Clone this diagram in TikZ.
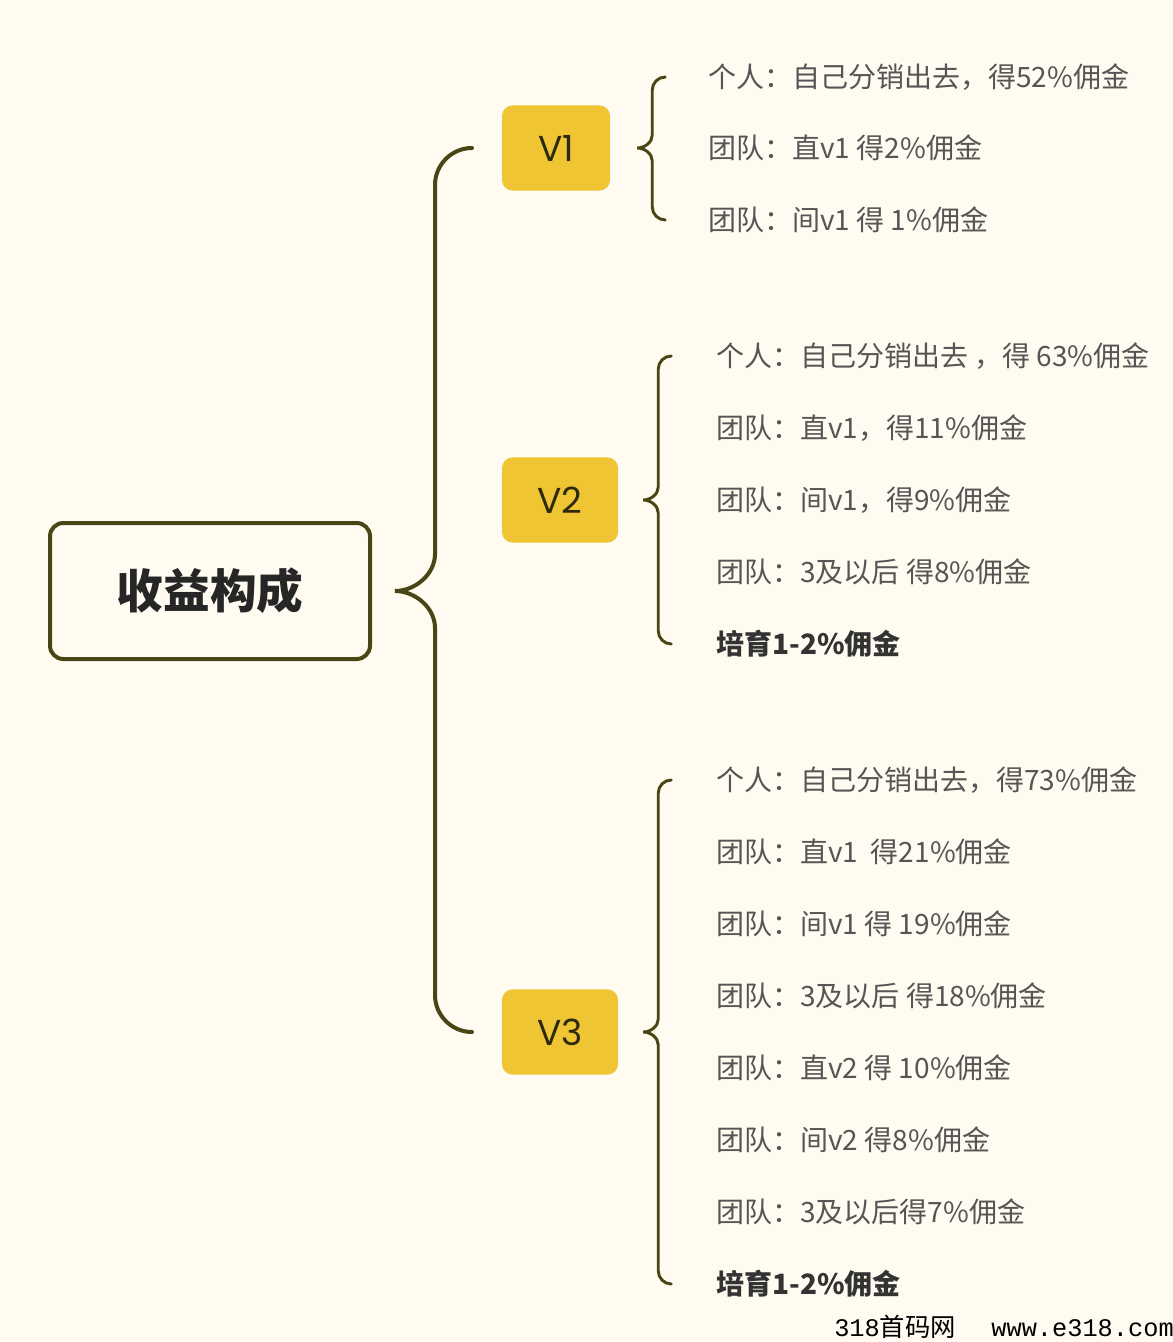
\documentclass[tikz,border=0pt]{standalone}
\usepackage{fontspec}
\setmainfont{Noto Sans CJK SC}
\newfontfamily\vfont{Poppins}
\newfontfamily\wmfont{Liberation Mono}
\usepackage{xcolor}
\usetikzlibrary{calc,positioning}
\definecolor{paper}{HTML}{FFFBF0}
\definecolor{olive}{HTML}{4A4515}
\definecolor{gold}{HTML}{EFC534}
\definecolor{itemgray}{HTML}{555555}

% curly bracket: top item, cusp, bottom item, depth, radius, width
\newcommand{\curlybrace}[6]{%
  \draw[curl=#6] ($(#1 -| #2)+(#4+#5,0)$)
    .. controls +(-0.55*#5,0) and +(0,-0.55*#5) .. ($(#1 -| #2)+(#4,#5)$)
    -- ($(#2)+(#4,-#5)$)
    .. controls +(0,0.55*#5) and +(0.5*#4,0) .. (#2)
    .. controls +(0.5*#4,0) and +(0,-0.55*#5) .. ($(#2)+(#4,#5)$)
    -- ($(#3 -| #2)+(#4,-#5)$)
    .. controls +(0,0.55*#5) and +(-0.55*#5,0) .. ($(#3 -| #2)+(#4+#5,0)$);}

\begin{document}
\begin{tikzpicture}[x=0.75pt, y=-0.75pt,
    root/.style={draw=olive, line width=3pt, rounded corners=10pt, fill=paper,
      minimum width=240pt, minimum height=102pt,
      font=\fontsize{35}{40}\selectfont\bfseries, text=black!85},
    level/.style={fill=gold, rounded corners=8pt, minimum width=87pt, minimum height=64pt,
      font=\vfont\fontsize{27}{30}\selectfont, text=olive!60!black},
    entry/.style={anchor=west, inner sep=0pt, text=itemgray, font=\fontsize{21}{25}\selectfont},
    keyentry/.style={entry, text=black!80, font=\fontsize{21}{25}\selectfont\bfseries},
    curl/.style={draw=olive, line width=#1, line cap=round}]
    \path[use as bounding box, fill=paper] (0,0) rectangle (1173,1342);

    % Root
    \node [root] (root) at (210,591) {收益构成};
    \coordinate (rootc) at ($(root.east)+(23,0)$);

    % Levels
    \node [level, minimum width=81pt] (v1) at (556,148) {V1};
    \node [level] (v2) at (560,500) {V2};
    \node [level] (v3) at (560,1032) {V3};
    \curlybrace{v1}{rootc}{v3}{40}{37}{3pt}

    % V1
    \node [entry] (a1) at (708,77) {个人：自己分销出去，得52\%佣金};
    \node [entry] (a2) at (708,148) {团队：直v1 得2\%佣金};
    \node [entry] (a3) at (708,220) {团队：间v1 得 1\%佣金};
    \coordinate (v1c) at ($(v1.east)+(27,0)$);
    \curlybrace{a1}{v1c}{a3}{15}{13}{2.2pt}

    % V2
    \node [entry] (b1) at (716,356) {个人：自己分销出去 ，得 63\%佣金};
    \node [entry] (b2) at (716,428) {团队：直v1，得11\%佣金};
    \node [entry] (b3) at (716,500) {团队：间v1，得9\%佣金};
    \node [entry] (b4) at (716,572) {团队：3及以后 得8\%佣金};
    \node [keyentry] (b5) at (716,644) {培育1-2\%佣金};
    \coordinate (v2c) at ($(v2.east)+(25,0)$);
    \curlybrace{b1}{v2c}{b5}{15}{13}{2.2pt}

    % V3
    \node [entry] (c1) at (716,780) {个人：自己分销出去，得73\%佣金};
    \node [entry] (c2) at (716,852) {团队：直v1\ \ 得21\%佣金};
    \node [entry] (c3) at (716,924) {团队：间v1 得 19\%佣金};
    \node [entry] (c4) at (716,996) {团队：3及以后 得18\%佣金};
    \node [entry] (c5) at (716,1068) {团队：直v2 得 10\%佣金};
    \node [entry] (c6) at (716,1140) {团队：间v2 得8\%佣金};
    \node [entry] (c7) at (716,1212) {团队：3及以后得7\%佣金};
    \node [keyentry] (c8) at (716,1284) {培育1-2\%佣金};
    \coordinate (v3c) at ($(v3.east)+(25,0)$);
    \curlybrace{c1}{v3c}{c8}{15}{13}{2.2pt}

    % watermark
    \node [anchor=west, inner sep=0pt, font=\fontsize{19}{22}\selectfont] (mark) at (834,1327)
      {{\wmfont 318}首码网\hspace{1.4em}{\wmfont www.e318.com}};
\end{tikzpicture}
\end{document}
